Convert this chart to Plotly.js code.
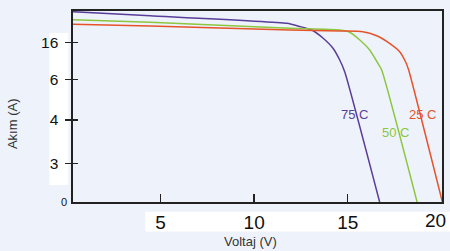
<!DOCTYPE html>
<html><head><meta charset="utf-8">
<script src="https://cdn.plot.ly/plotly-3.0.1.min.js"></script>
<style>html,body{margin:0;padding:0;background:#eef3fb;}#chart{width:450px;height:251px;}</style>
</head><body><div id="chart"></div>
<script>
// I-V curves (voltage V, current in axis units)
const v75 = [0.33, 4.45, 11.75, 12.44, 13.08, 13.67, 14.2, 14.57, 14.84, 16.7];
const i75 = [19.03, 18.63, 17.87, 17.55, 17.2, 16.4, 15.4, 14.2, 13.0, 0];
const v50 = [0.33, 4.45, 11.91, 14.57, 15.1, 15.64, 16.17, 16.6, 16.81, 18.7];
const i50 = [18.23, 17.97, 17.37, 17.2, 16.97, 16.2, 15.2, 13.9, 13.2, 0];
const v25 = [0.33, 4.45, 11.91, 14.57, 15.8, 16.54, 17.23, 17.77, 18.09, 18.25, 20.05];
const i25 = [17.77, 17.6, 17.2, 17.1, 17.03, 16.63, 15.87, 15.03, 14.0, 13.2, 0];
const seriesNames = ["75 C", "50 C", "25 C"];
const seriesColors = ["#5a3d98", "#8cc63f", "#e6532a"];
const labelPosV = [15.37, 17.55, 18.99];
const labelPosI = [8.8, 6.93, 8.8];
const xTickVals = [5, 10, 15, 20];
const xTickText = ["5", "10", "15", "20"];
const yTickVals = [3.87, 8.2, 12.27, 15.97];
const yTickText = ["3", "4", "6", "16"];

const FONT = 'Liberation Sans, Arial, sans-serif';
const vs = [v75, v50, v25], is = [i75, i50, i25];
const traces = vs.map((v, k) => ({
  x: v, y: is[k], type: 'scatter', mode: 'lines', name: seriesNames[k],
  line: {color: seriesColors[k], width: 1.5, shape: 'spline', smoothing: 0.5},
  hoverinfo: 'skip'
}));
traces.push({x: [1], y: [1], yaxis: 'y2', mode: 'none', showlegend: false, hoverinfo: 'skip'});

// last x tick label sits at the plot edge: drawn as an annotation nudged left (as in the reference)
const lastIdx = xTickVals.length - 1;
const axisTickText = xTickText.map((t, i) => i === lastIdx ? '' : t);

const annotations = seriesNames.map((n, k) => ({
  x: labelPosV[k], y: labelPosI[k], xref: 'x', yref: 'y', text: n, showarrow: false,
  font: {family: FONT, size: 13, color: seriesColors[k]}
}));
annotations.push({x: xTickVals[lastIdx], y: -0.097, xref: 'x', yref: 'paper', text: xTickText[lastIdx],
  showarrow: false, xshift: -6, yanchor: 'middle', font: {family: FONT, size: 19, color: '#111'}});
annotations.push({x: -0.01, y: 0, xref: 'paper', yref: 'y', text: '0', showarrow: false,
  xanchor: 'right', font: {family: FONT, size: 11, color: '#111'}});
annotations.push({x: 0.48, y: -0.257, xref: 'paper', yref: 'paper', text: 'Voltaj (V)', showarrow: false,
  font: {family: FONT, size: 13, color: '#333'}});
annotations.push({x: -0.19, y: 0.41, xref: 'paper', yref: 'paper', text: 'Akım (A)', showarrow: false,
  textangle: -90, font: {family: FONT, size: 13, color: '#333'}});

const layout = {
  width: 450, height: 251,
  margin: {l: 72.7, r: 8, t: 11, b: 49},
  paper_bgcolor: '#eef3fb', plot_bgcolor: '#eef3fb',
  showlegend: false,
  xaxis: {range: [0.33, 20.03], showgrid: false, zeroline: false,
    showline: true, linecolor: '#222', linewidth: 1.6, mirror: true,
    ticks: 'inside', ticklen: 8, tickwidth: 1.4, tickcolor: '#222',
    tickvals: xTickVals, ticktext: axisTickText, ticklabelstandoff: 3,
    tickfont: {family: FONT, size: 19, color: '#111'}},
  yaxis: {range: [0, 19.1], showgrid: false, zeroline: false,
    showline: true, linecolor: '#222', linewidth: 1.6, mirror: true,
    ticks: 'outside', ticklen: 6, tickwidth: 1.4, tickcolor: '#222',
    tickvals: yTickVals, ticktext: yTickText, ticklabelstandoff: 4,
    tickfont: {family: FONT, size: 15.5, color: '#111'}},
  yaxis2: {range: [0, 19.1], overlaying: 'y', side: 'left', showgrid: false, zeroline: false,
    showline: false, ticks: 'inside', ticklen: 5, tickwidth: 1.4, tickcolor: '#222',
    tickvals: yTickVals, showticklabels: false},
  shapes: [
    {type: 'rect', xref: 'paper', yref: 'paper', x0: -0.064, x1: -0.0127, y0: 0.089, y1: 0.885,
     fillcolor: '#ffffff', line: {width: 0}, layer: 'below'},
    {type: 'rect', xref: 'paper', yref: 'paper', x0: 0.196, x1: 1.03, y0: -0.155, y1: -0.051,
     fillcolor: '#ffffff', line: {width: 0}, layer: 'below'}
  ],
  annotations: annotations
};
Plotly.newPlot('chart', traces, layout, {displayModeBar: false, staticPlot: true});
</script></body></html>
